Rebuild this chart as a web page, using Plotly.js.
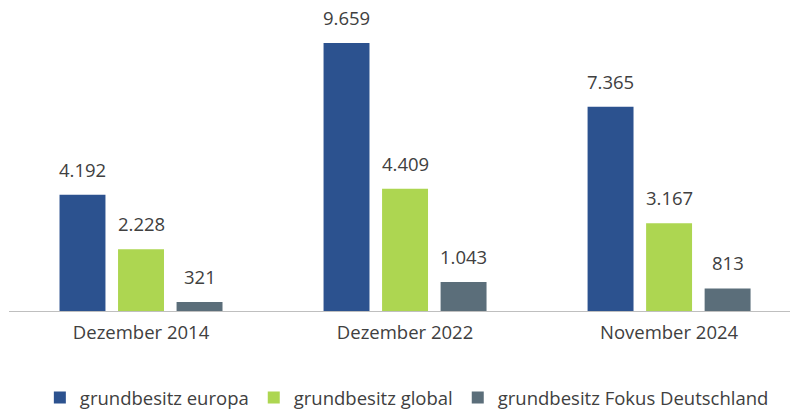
<!DOCTYPE html>
<html>
<head>
<meta charset="utf-8">
<script src="https://cdn.plot.ly/plotly-3.0.1.min.js"></script>
<style>html,body{margin:0;padding:0;background:#fff;}#chart{width:790px;height:409px;}</style>
</head>
<body>
<div id="chart"></div>
<script>
const categories = ["Dezember 2014", "Dezember 2022", "November 2024"];
const seriesNames = ["grundbesitz europa", "grundbesitz global", "grundbesitz Fokus Deutschland"];
const europa = [4192, 9659, 7365];
const global = [2228, 4409, 3167];
const fokus = [321, 1043, 813];

const allSeries = [europa, global, fokus];
const colors = ["#2C528F", "#ADD651", "#5B6E7A"];
const textColor = "#404040";
const fontFamily = "'Open Sans', 'Noto Sans', sans-serif";

function fmt(v) {
  return String(v).replace(/\B(?=(\d{3})+(?!\d))/g, ".");
}

const traces = allSeries.map((vals, j) => ({
  type: "bar",
  name: seriesNames[j],
  x: categories,
  y: vals,
  marker: { color: colors[j] },
  hoverinfo: "skip"
}));

const groupStepPx = 58.5;
const annotations = [];
allSeries.forEach((vals, j) => {
  vals.forEach((v, i) => {
    annotations.push({
      x: categories[i], y: v, xref: "x", yref: "y",
      text: fmt(v), showarrow: false,
      xanchor: "center", yanchor: "bottom",
      xshift: (j - 1) * groupStepPx, yshift: 11,
      font: { family: fontFamily, size: 18.5, color: textColor }
    });
  });
});

const layout = {
  width: 790, height: 409,
  margin: { l: 9, r: 0, t: 0, b: 98 },
  paper_bgcolor: "#ffffff", plot_bgcolor: "#ffffff",
  barmode: "group",
  bargap: 0.335,
  bargroupgap: 0.215,
  showlegend: true,
  font: { family: fontFamily, color: textColor, size: 18.5 },
  xaxis: {
    type: "category",
    range: [-0.5, 2.458],
    showline: true, linecolor: "#BFBFBF", linewidth: 1,
    showgrid: false, zeroline: false, ticks: "",
    ticklabelstandoff: 5,
    tickfont: { family: fontFamily, size: 18.5, color: textColor },
    fixedrange: true
  },
  yaxis: {
    range: [0, 11210], visible: false, showgrid: false, zeroline: false, fixedrange: true
  },
  legend: {
    orientation: "h",
    xref: "container", yref: "container",
    x: 0.515, xanchor: "center",
    y: 0.027, yanchor: "middle",
    font: { family: fontFamily, size: 18.5, color: textColor },
    traceorder: "normal"
  },
  annotations: annotations
};

Plotly.newPlot("chart", traces, layout, { displayModeBar: false, staticPlot: true });
</script>
</body>
</html>
